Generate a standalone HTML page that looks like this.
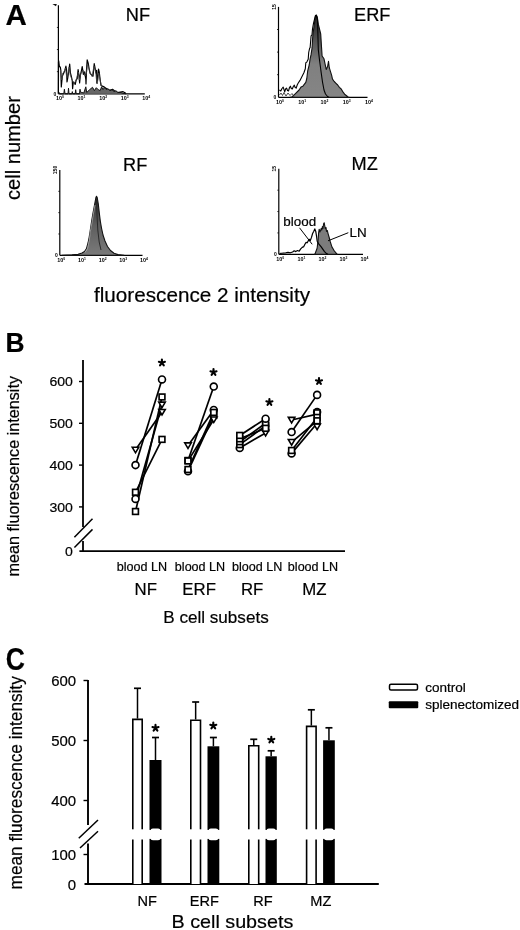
<!DOCTYPE html>
<html><head><meta charset="utf-8"><style>
html,body{margin:0;padding:0;background:#fff;width:520px;height:930px;overflow:hidden}
svg{display:block;filter:blur(0.35px)}
text{font-family:"Liberation Sans", sans-serif;fill:#000;stroke:#000;stroke-width:0.2px}
</style></head><body>
<svg width="520" height="930" viewBox="0 0 520 930">
<defs><linearGradient id="gE" x1="0" y1="15" x2="0" y2="97" gradientUnits="userSpaceOnUse"><stop offset="0" stop-color="#222"/><stop offset="0.35" stop-color="#5a5a5a"/><stop offset="0.6" stop-color="#808080"/><stop offset="1" stop-color="#858585"/></linearGradient><linearGradient id="gR" x1="0" y1="196" x2="0" y2="255" gradientUnits="userSpaceOnUse"><stop offset="0" stop-color="#2a2a2a"/><stop offset="0.5" stop-color="#5e5e5e"/><stop offset="1" stop-color="#7a7a7a"/></linearGradient></defs>
<text transform="translate(5.60,24.50) scale(1.0,1)" font-size="29.5" text-anchor="start" font-weight="bold" >A</text>
<line x1="58.4" y1="5.3" x2="58.4" y2="93.8" stroke="#000" stroke-width="1.2"/>
<line x1="58.4" y1="93.8" x2="144.8" y2="93.8" stroke="#000" stroke-width="1.2"/>
<line x1="56.9" y1="71.675" x2="58.4" y2="71.675" stroke="#000" stroke-width="0.8"/>
<line x1="56.9" y1="49.55" x2="58.4" y2="49.55" stroke="#000" stroke-width="0.8"/>
<line x1="56.9" y1="27.424999999999997" x2="58.4" y2="27.424999999999997" stroke="#000" stroke-width="0.8"/>
<text x="59.9" y="100.1" font-size="5.4" font-weight="bold" text-anchor="middle" fill="#222" style="stroke:none">10<tspan font-size="3.4" dy="-2">0</tspan></text>
<text x="81.5" y="100.1" font-size="5.4" font-weight="bold" text-anchor="middle" fill="#222" style="stroke:none">10<tspan font-size="3.4" dy="-2">1</tspan></text>
<text x="103.1" y="100.1" font-size="5.4" font-weight="bold" text-anchor="middle" fill="#222" style="stroke:none">10<tspan font-size="3.4" dy="-2">2</tspan></text>
<text x="124.7" y="100.1" font-size="5.4" font-weight="bold" text-anchor="middle" fill="#222" style="stroke:none">10<tspan font-size="3.4" dy="-2">3</tspan></text>
<text x="146.3" y="100.1" font-size="5.4" font-weight="bold" text-anchor="middle" fill="#222" style="stroke:none">10<tspan font-size="3.4" dy="-2">4</tspan></text>
<text x="54.9" y="95.6" font-size="5" font-weight="bold" text-anchor="middle" fill="#222" style="stroke:none">0</text>
<path d="M52.4,3.9 L56.8,3.9 L56.0,6.2 Z" fill="#111"/>
<path d="M58.4,93.8 L58.5,62.0 L58.7,60.8 L59.4,66.6 L60.3,67.0 L60.8,70.0 L61.3,87.0 L62.3,76.2 L63.2,74.3 L64.9,70.4 L65.9,66.1 L66.6,70.4 L67.0,82.0 L67.8,77.6 L68.7,71.4 L69.7,64.2 L70.4,72.8 L71.4,76.7 L72.3,81.0 L72.6,88.7 L73.3,82.0 L74.3,83.0 L75.2,84.4 L76.2,80.0 L77.2,78.6 L78.1,69.5 L79.1,76.2 L79.6,83.0 L80.5,74.3 L81.2,72.0 L82.2,66.6 L83.4,74.3 L84.6,71.9 L85.8,79.1 L86.0,83.9 L86.5,70.4 L87.2,59.8 L88.2,63.2 L89.1,68.5 L90.1,73.3 L91.5,74.8 L93.0,76.2 L93.5,71.4 L94.2,63.7 L95.1,68.0 L95.9,72.8 L96.6,70.4 L96.8,82.9 L97.5,80.0 L98.5,69.0 L99.2,71.9 L100.2,80.0 L101.0,85.5 L102.9,86.4 L104.8,87.4 L106.7,88.8 L109.6,90.3 L112.5,89.3 L114.4,90.8 L117.3,92.7 L120.2,92.2 L123.1,91.7 L125.0,92.7 L126.0,93.6" fill="none" stroke="#000" stroke-width="1.2" stroke-linejoin="round"/>
<path d="M60.5,70.0 L61.8,80.0 L62.8,73.0 L64.0,72.0 L65.5,68.0 L66.8,78.0 L68.0,74.0 L69.2,67.0 L70.2,75.0 L71.8,79.0 L74.0,84.0 L76.5,79.0 L78.4,72.0 L79.3,80.0 L81.0,73.0 L83.0,70.0 L85.0,76.0 L86.3,74.0 L87.6,64.0 L89.5,71.0 L92.0,76.5 L94.0,66.0 L95.5,71.0 L96.4,79.0 L97.2,84.0 L98.8,73.0 L100.5,82.0 L101.5,86.0" fill="none" stroke="#444" stroke-width="0.8" stroke-linejoin="round"/>
<path d="M58.6,93.8 L59.1,92.5 L59.6,93.8 L63.8,93.8 L64.4,89.2 L65.0,93.8 L68.0,93.8 L68.5,88.2 L69.0,93.8 L71.8,93.8 L72.3,91.6 L72.8,93.8 L75.2,93.8 L75.7,89.7 L76.2,93.8 L79.5,93.8 L80.0,89.2 L80.5,92.0 L81.9,92.5 L83.8,93.0 L85.8,86.8 L86.7,92.5 L89.6,89.7 L92.5,87.3 L94.4,90.6 L96.3,87.7 L98.3,89.7 L100.2,90.6 L101.6,86.8 L103.0,89.7 L104.5,87.3 L106.0,89.5 L108.0,88.8 L110.0,90.6 L112.0,89.8 L114.0,91.5 L116.0,90.8 L118.0,92.5 L121.0,92.6 L123.0,93.3 L126.0,93.8" fill="#666" stroke="#111" stroke-width="1.0" stroke-linejoin="round"/>
<text transform="translate(125.80,21.00) scale(1.04,1)" font-size="17.5" text-anchor="start" font-weight="normal" >NF</text>
<line x1="278.5" y1="6.9" x2="278.5" y2="97.3" stroke="#000" stroke-width="1.2"/>
<line x1="278.5" y1="97.3" x2="367.5" y2="97.3" stroke="#000" stroke-width="1.2"/>
<line x1="277.0" y1="74.7" x2="278.5" y2="74.7" stroke="#000" stroke-width="0.8"/>
<line x1="277.0" y1="52.1" x2="278.5" y2="52.1" stroke="#000" stroke-width="0.8"/>
<line x1="277.0" y1="29.5" x2="278.5" y2="29.5" stroke="#000" stroke-width="0.8"/>
<text x="280.0" y="103.6" font-size="5.4" font-weight="bold" text-anchor="middle" fill="#222" style="stroke:none">10<tspan font-size="3.4" dy="-2">0</tspan></text>
<text x="302.2" y="103.6" font-size="5.4" font-weight="bold" text-anchor="middle" fill="#222" style="stroke:none">10<tspan font-size="3.4" dy="-2">1</tspan></text>
<text x="324.5" y="103.6" font-size="5.4" font-weight="bold" text-anchor="middle" fill="#222" style="stroke:none">10<tspan font-size="3.4" dy="-2">2</tspan></text>
<text x="346.8" y="103.6" font-size="5.4" font-weight="bold" text-anchor="middle" fill="#222" style="stroke:none">10<tspan font-size="3.4" dy="-2">3</tspan></text>
<text x="369.0" y="103.6" font-size="5.4" font-weight="bold" text-anchor="middle" fill="#222" style="stroke:none">10<tspan font-size="3.4" dy="-2">4</tspan></text>
<text x="275.0" y="99.1" font-size="5" font-weight="bold" text-anchor="middle" fill="#222" style="stroke:none">0</text>
<text transform="translate(275.8,6.9) rotate(-90)" font-size="5" font-weight="bold" text-anchor="middle" fill="#222" style="stroke:none">15</text>
<path d="M290.5,97.3 L292.3,96.7 L295.2,93.8 L299.1,90.0 L301.0,87.1 L302.9,86.2 L305.8,82.3 L306.8,78.5 L307.7,70.8 L309.2,65.0 L310.1,59.2 L311.1,54.4 L312.1,47.7 L312.5,40.0 L313.0,33.8 L314.4,24.2 L315.3,17.0 L316.3,15.1 L317.3,17.0 L318.3,24.2 L320.7,33.8 L321.6,48.3 L322.1,56.0 L324.0,58.8 L325.0,63.7 L326.2,69.4 L327.6,66.5 L328.5,61.3 L329.3,67.7 L330.5,71.7 L331.6,75.2 L332.5,79.2 L334.2,81.5 L336.0,83.3 L337.7,85.0 L339.4,87.3 L341.2,89.0 L342.9,91.9 L344.6,94.2 L346.9,96.0 L348.1,97.1 L349.0,97.3 Z" fill="url(#gE)" stroke="#111" stroke-width="1.1" stroke-linejoin="round"/>
<path d="M279.4,90.0 L280.8,91.0 L282.0,88.5 L283.2,87.1 L284.7,91.9 L285.6,89.0 L286.6,88.1 L287.5,90.5 L288.5,91.0 L289.5,87.5 L290.4,86.2 L291.3,88.5 L292.3,89.0 L293.3,86.5 L294.3,85.2 L295.2,87.5 L296.2,88.1 L297.2,85.0 L298.1,83.3 L300.0,80.4 L302.0,76.5 L303.9,72.7 L305.3,68.8 L305.8,62.7 L306.8,62.1 L308.2,59.2 L308.7,52.5 L309.6,48.3 L310.1,47.7 L311.1,35.8 L312.0,34.8 L312.5,29.0 L313.5,23.3 L315.4,15.6 L316.3,15.2 L317.5,20.0 L318.3,49.6 L319.5,60.0 L321.2,72.7 L322.5,82.0 L324.0,90.0 L325.5,94.0 L327.5,96.5 L329.0,97.3" fill="none" stroke="#000" stroke-width="1.1" stroke-linejoin="round"/>
<path d="M279.5,95.0 L281.0,93.0 L282.5,95.5 L284.0,92.5 L286.0,96.0 L288.0,93.0 L290.0,95.5 L292.0,93.5 L294.0,96.5" fill="none" stroke="#222" stroke-width="0.8" stroke-linejoin="round"/>
<text transform="translate(354.00,20.80) scale(1.04,1)" font-size="17.5" text-anchor="start" font-weight="normal" >ERF</text>
<line x1="59.8" y1="170" x2="59.8" y2="255.3" stroke="#000" stroke-width="1.2"/>
<line x1="59.8" y1="255.3" x2="142.5" y2="255.3" stroke="#000" stroke-width="1.2"/>
<line x1="58.3" y1="233.97500000000002" x2="59.8" y2="233.97500000000002" stroke="#000" stroke-width="0.8"/>
<line x1="58.3" y1="212.65" x2="59.8" y2="212.65" stroke="#000" stroke-width="0.8"/>
<line x1="58.3" y1="191.325" x2="59.8" y2="191.325" stroke="#000" stroke-width="0.8"/>
<text x="61.3" y="261.6" font-size="5.4" font-weight="bold" text-anchor="middle" fill="#222" style="stroke:none">10<tspan font-size="3.4" dy="-2">0</tspan></text>
<text x="82.0" y="261.6" font-size="5.4" font-weight="bold" text-anchor="middle" fill="#222" style="stroke:none">10<tspan font-size="3.4" dy="-2">1</tspan></text>
<text x="102.7" y="261.6" font-size="5.4" font-weight="bold" text-anchor="middle" fill="#222" style="stroke:none">10<tspan font-size="3.4" dy="-2">2</tspan></text>
<text x="123.3" y="261.6" font-size="5.4" font-weight="bold" text-anchor="middle" fill="#222" style="stroke:none">10<tspan font-size="3.4" dy="-2">3</tspan></text>
<text x="144.0" y="261.6" font-size="5.4" font-weight="bold" text-anchor="middle" fill="#222" style="stroke:none">10<tspan font-size="3.4" dy="-2">4</tspan></text>
<text x="56.3" y="257.1" font-size="5" font-weight="bold" text-anchor="middle" fill="#222" style="stroke:none">0</text>
<text transform="translate(57.099999999999994,170) rotate(-90)" font-size="5" font-weight="bold" text-anchor="middle" fill="#222" style="stroke:none">150</text>
<path d="M62.0,255.3 L72.0,254.8 L78.0,254.2 L82.0,253.0 L84.5,251.5 L86.5,248.5 L88.0,243.0 L89.2,237.0 L90.3,230.0 L91.5,222.0 L93.0,213.0 L94.7,204.0 L95.9,197.5 L96.5,196.2 L97.2,197.5 L98.3,204.0 L99.3,213.0 L100.3,221.0 L101.5,228.0 L103.0,235.0 L105.0,241.0 L107.5,246.5 L110.5,250.5 L114.0,253.3 L118.0,254.6 L124.0,255.3 Z" fill="url(#gR)" stroke="#111" stroke-width="1.1" stroke-linejoin="round"/>
<path d="M85.0,252.5 L87.5,248.5 L89.3,240.0 L90.4,231.0 L91.7,224.0 L93.2,215.0 L95.0,205.0" fill="none" stroke="#bbb" stroke-width="0.7" stroke-linejoin="round"/>
<path d="M96.6,198.0 L97.0,215.0 L97.8,230.0 L99.2,242.0 L101.0,250.0" fill="none" stroke="#222" stroke-width="0.9" stroke-linejoin="round"/>
<text transform="translate(123.00,170.60) scale(1.04,1)" font-size="17.5" text-anchor="start" font-weight="normal" >RF</text>
<line x1="278.8" y1="168.8" x2="278.8" y2="254.3" stroke="#000" stroke-width="1.2"/>
<line x1="278.8" y1="254.3" x2="363" y2="254.3" stroke="#000" stroke-width="1.2"/>
<line x1="277.3" y1="232.925" x2="278.8" y2="232.925" stroke="#000" stroke-width="0.8"/>
<line x1="277.3" y1="211.55" x2="278.8" y2="211.55" stroke="#000" stroke-width="0.8"/>
<line x1="277.3" y1="190.175" x2="278.8" y2="190.175" stroke="#000" stroke-width="0.8"/>
<text x="280.3" y="260.6" font-size="5.4" font-weight="bold" text-anchor="middle" fill="#222" style="stroke:none">10<tspan font-size="3.4" dy="-2">0</tspan></text>
<text x="301.4" y="260.6" font-size="5.4" font-weight="bold" text-anchor="middle" fill="#222" style="stroke:none">10<tspan font-size="3.4" dy="-2">1</tspan></text>
<text x="322.4" y="260.6" font-size="5.4" font-weight="bold" text-anchor="middle" fill="#222" style="stroke:none">10<tspan font-size="3.4" dy="-2">2</tspan></text>
<text x="343.4" y="260.6" font-size="5.4" font-weight="bold" text-anchor="middle" fill="#222" style="stroke:none">10<tspan font-size="3.4" dy="-2">3</tspan></text>
<text x="364.5" y="260.6" font-size="5.4" font-weight="bold" text-anchor="middle" fill="#222" style="stroke:none">10<tspan font-size="3.4" dy="-2">4</tspan></text>
<text x="275.3" y="256.1" font-size="5" font-weight="bold" text-anchor="middle" fill="#222" style="stroke:none">0</text>
<text transform="translate(276.1,168.8) rotate(-90)" font-size="5" font-weight="bold" text-anchor="middle" fill="#222" style="stroke:none">15</text>
<path d="M314.5,254.3 L315.1,253.6 L317.1,248.3 L318.1,240.2 L318.6,233.0 L319.2,229.2 L319.9,232.0 L320.5,230.8 L321.2,228.5 L321.8,230.0 L322.4,226.5 L323.0,228.5 L323.6,223.8 L324.2,222.8 L324.8,226.0 L325.3,228.7 L326.0,227.5 L326.5,231.4 L327.3,230.5 L328.2,234.1 L329.2,237.5 L330.2,241.5 L331.9,246.9 L333.9,250.3 L336.0,253.0 L337.3,254.3 Z" fill="#7c7c7c" stroke="#111" stroke-width="1.1" stroke-linejoin="round"/>
<path d="M279.5,253.5 L282.6,253.2 L285.7,252.8 L288.0,252.4 L290.3,252.8 L292.6,252.0 L294.2,250.8 L295.7,251.6 L297.6,250.5 L299.2,251.2 L300.7,248.9 L302.2,247.4 L303.8,246.6 L304.9,244.3 L306.1,242.4 L307.2,242.8 L308.4,240.5 L309.5,239.7 L310.3,240.5 L311.5,237.4 L312.6,233.5 L313.8,231.2 L314.8,228.9 L315.7,231.2 L316.5,235.8 L317.2,241.2 L318.5,243.6 L321.2,246.9 L324.5,251.6 L326.5,253.6 L328.0,254.3" fill="none" stroke="#000" stroke-width="1.2" stroke-linejoin="round"/>
<circle cx="309.2" cy="240" r="1.3" fill="#000"/>
<text transform="translate(351.60,169.90) scale(1.04,1)" font-size="17.5" text-anchor="start" font-weight="normal" >MZ</text>
<text transform="translate(283.30,226.20) scale(1.04,1)" font-size="12.9" text-anchor="start" font-weight="normal" >blood</text>
<line x1="299.5" y1="227.8" x2="312.2" y2="244.3" stroke="#000" stroke-width="1.0"/>
<text transform="translate(349.50,236.90) scale(1.04,1)" font-size="12.9" text-anchor="start" font-weight="normal" >LN</text>
<line x1="348.3" y1="232.7" x2="328" y2="240.8" stroke="#000" stroke-width="1.0"/>
<text transform="translate(19.6,200.0) rotate(-90) scale(1,1.04)" font-size="20.1">cell number</text>
<text transform="translate(94.00,301.60) scale(1.05,1)" font-size="19.7" text-anchor="start" font-weight="normal" >fluorescence 2 intensity</text>
<text transform="translate(5.60,352.30) scale(0.97,1)" font-size="27.2" text-anchor="start" font-weight="bold" >B</text>
<text transform="translate(18.6,576.6) rotate(-90)" font-size="16.2">mean fluorescence intensity</text>
<line x1="83.0" y1="360" x2="83.0" y2="527" stroke="#000" stroke-width="1.8"/>
<line x1="83.0" y1="541" x2="83.0" y2="552.0" stroke="#000" stroke-width="1.8"/>
<line x1="79.4" y1="551.2" x2="345" y2="551.2" stroke="#000" stroke-width="1.8"/>
<line x1="79" y1="381.5" x2="83.0" y2="381.5" stroke="#000" stroke-width="1.4"/>
<text transform="translate(72.80,386.30) scale(1.04,1)" font-size="13.5" text-anchor="end" font-weight="normal" >600</text>
<line x1="79" y1="423.3" x2="83.0" y2="423.3" stroke="#000" stroke-width="1.4"/>
<text transform="translate(72.80,428.10) scale(1.04,1)" font-size="13.5" text-anchor="end" font-weight="normal" >500</text>
<line x1="79" y1="465.1" x2="83.0" y2="465.1" stroke="#000" stroke-width="1.4"/>
<text transform="translate(72.80,469.90) scale(1.04,1)" font-size="13.5" text-anchor="end" font-weight="normal" >400</text>
<line x1="79" y1="506.9" x2="83.0" y2="506.9" stroke="#000" stroke-width="1.4"/>
<text transform="translate(72.80,511.70) scale(1.04,1)" font-size="13.5" text-anchor="end" font-weight="normal" >300</text>
<text transform="translate(72.80,556.40) scale(1.04,1)" font-size="13.5" text-anchor="end" font-weight="normal" >0</text>
<line x1="74.4" y1="537.3" x2="92.5" y2="518.8" stroke="#000" stroke-width="1.5"/>
<line x1="74.4" y1="547.5" x2="92.5" y2="529.4" stroke="#000" stroke-width="1.5"/>
<line x1="135.5" y1="449.8012" x2="162.0" y2="412.014" stroke="#000" stroke-width="1.7"/>
<line x1="135.5" y1="465.1" x2="162.0" y2="379.41" stroke="#000" stroke-width="1.7"/>
<line x1="135.5" y1="492.27" x2="162.0" y2="439.39300000000003" stroke="#000" stroke-width="1.7"/>
<line x1="135.5" y1="498.95799999999997" x2="162.0" y2="404.699" stroke="#000" stroke-width="1.7"/>
<line x1="135.5" y1="511.498" x2="162.0" y2="396.966" stroke="#000" stroke-width="1.7"/>
<path d="M132.20,447.20 L138.80,447.20 L135.50,452.80 Z" fill="#fff" stroke="#000" stroke-width="1.55" stroke-linejoin="miter"/>
<path d="M158.70,409.41 L165.30,409.41 L162.00,415.01 Z" fill="#fff" stroke="#000" stroke-width="1.55" stroke-linejoin="miter"/>
<circle cx="135.50" cy="465.10" r="3.45" fill="#fff" stroke="#000" stroke-width="1.65"/>
<circle cx="162.00" cy="379.41" r="3.45" fill="#fff" stroke="#000" stroke-width="1.65"/>
<rect x="132.60" y="489.37" width="5.8" height="5.8" fill="#fff" stroke="#000" stroke-width="1.65"/>
<rect x="159.10" y="436.49" width="5.8" height="5.8" fill="#fff" stroke="#000" stroke-width="1.65"/>
<circle cx="135.50" cy="498.96" r="3.45" fill="#fff" stroke="#000" stroke-width="1.65"/>
<path d="M158.70,402.10 L165.30,402.10 L162.00,407.70 Z" fill="#fff" stroke="#000" stroke-width="1.55" stroke-linejoin="miter"/>
<rect x="132.60" y="508.60" width="5.8" height="5.8" fill="#fff" stroke="#000" stroke-width="1.65"/>
<rect x="159.10" y="394.07" width="5.8" height="5.8" fill="#fff" stroke="#000" stroke-width="1.65"/>
<line x1="188" y1="471.161" x2="213.75" y2="415.358" stroke="#000" stroke-width="1.7"/>
<line x1="188" y1="445.454" x2="213.75" y2="409.924" stroke="#000" stroke-width="1.7"/>
<line x1="188" y1="460.502" x2="213.75" y2="386.516" stroke="#000" stroke-width="1.7"/>
<line x1="188" y1="469.489" x2="213.75" y2="412.432" stroke="#000" stroke-width="1.7"/>
<line x1="188" y1="460.92" x2="213.75" y2="419.538" stroke="#000" stroke-width="1.7"/>
<circle cx="188.00" cy="471.16" r="3.45" fill="#fff" stroke="#000" stroke-width="1.65"/>
<rect x="210.85" y="412.46" width="5.8" height="5.8" fill="#fff" stroke="#000" stroke-width="1.65"/>
<path d="M184.70,442.85 L191.30,442.85 L188.00,448.45 Z" fill="#fff" stroke="#000" stroke-width="1.55" stroke-linejoin="miter"/>
<circle cx="213.75" cy="409.92" r="3.45" fill="#fff" stroke="#000" stroke-width="1.65"/>
<rect x="185.10" y="457.60" width="5.8" height="5.8" fill="#fff" stroke="#000" stroke-width="1.65"/>
<circle cx="213.75" cy="386.52" r="3.45" fill="#fff" stroke="#000" stroke-width="1.65"/>
<rect x="185.10" y="466.59" width="5.8" height="5.8" fill="#fff" stroke="#000" stroke-width="1.65"/>
<rect x="210.85" y="409.53" width="5.8" height="5.8" fill="#fff" stroke="#000" stroke-width="1.65"/>
<rect x="185.10" y="458.02" width="5.8" height="5.8" fill="#fff" stroke="#000" stroke-width="1.65"/>
<path d="M210.45,416.94 L217.05,416.94 L213.75,422.54 Z" fill="#fff" stroke="#000" stroke-width="1.55" stroke-linejoin="miter"/>
<line x1="239.75" y1="447.962" x2="265.6" y2="432.914" stroke="#000" stroke-width="1.7"/>
<line x1="239.75" y1="444.618" x2="265.6" y2="425.808" stroke="#000" stroke-width="1.7"/>
<line x1="239.75" y1="441.692" x2="265.6" y2="423.3" stroke="#000" stroke-width="1.7"/>
<line x1="239.75" y1="438.766" x2="265.6" y2="428.316" stroke="#000" stroke-width="1.7"/>
<line x1="239.75" y1="435.422" x2="265.6" y2="418.702" stroke="#000" stroke-width="1.7"/>
<circle cx="239.75" cy="447.96" r="3.45" fill="#fff" stroke="#000" stroke-width="1.65"/>
<path d="M262.30,430.31 L268.90,430.31 L265.60,435.91 Z" fill="#fff" stroke="#000" stroke-width="1.55" stroke-linejoin="miter"/>
<rect x="236.85" y="441.72" width="5.8" height="5.8" fill="#fff" stroke="#000" stroke-width="1.65"/>
<rect x="262.70" y="422.91" width="5.8" height="5.8" fill="#fff" stroke="#000" stroke-width="1.65"/>
<rect x="236.85" y="438.79" width="5.8" height="5.8" fill="#fff" stroke="#000" stroke-width="1.65"/>
<rect x="262.70" y="420.40" width="5.8" height="5.8" fill="#fff" stroke="#000" stroke-width="1.65"/>
<rect x="236.85" y="435.87" width="5.8" height="5.8" fill="#fff" stroke="#000" stroke-width="1.65"/>
<rect x="262.70" y="425.42" width="5.8" height="5.8" fill="#fff" stroke="#000" stroke-width="1.65"/>
<rect x="236.85" y="432.52" width="5.8" height="5.8" fill="#fff" stroke="#000" stroke-width="1.65"/>
<circle cx="265.60" cy="418.70" r="3.45" fill="#fff" stroke="#000" stroke-width="1.65"/>
<line x1="291.6" y1="419.956" x2="317.1" y2="414.104" stroke="#000" stroke-width="1.7"/>
<line x1="291.6" y1="432.078" x2="317.1" y2="394.876" stroke="#000" stroke-width="1.7"/>
<line x1="291.6" y1="442.11" x2="317.1" y2="420.79200000000003" stroke="#000" stroke-width="1.7"/>
<line x1="291.6" y1="450.47" x2="317.1" y2="417.448" stroke="#000" stroke-width="1.7"/>
<line x1="291.6" y1="453.396" x2="317.1" y2="423.3" stroke="#000" stroke-width="1.7"/>
<circle cx="291.60" cy="453.40" r="3.45" fill="#fff" stroke="#000" stroke-width="1.65"/>
<rect x="288.70" y="447.57" width="5.8" height="5.8" fill="#fff" stroke="#000" stroke-width="1.65"/>
<path d="M288.30,439.51 L294.90,439.51 L291.60,445.11 Z" fill="#fff" stroke="#000" stroke-width="1.55" stroke-linejoin="miter"/>
<circle cx="291.60" cy="432.08" r="3.45" fill="#fff" stroke="#000" stroke-width="1.65"/>
<path d="M288.30,417.36 L294.90,417.36 L291.60,422.96 Z" fill="#fff" stroke="#000" stroke-width="1.55" stroke-linejoin="miter"/>
<path d="M313.80,424.04 L320.40,424.04 L317.10,429.64 Z" fill="#fff" stroke="#000" stroke-width="1.55" stroke-linejoin="miter"/>
<circle cx="317.10" cy="412.01" r="3.45" fill="#fff" stroke="#000" stroke-width="1.65"/>
<rect x="314.20" y="409.95" width="5.8" height="5.8" fill="#fff" stroke="#000" stroke-width="1.65"/>
<rect x="314.20" y="414.55" width="5.8" height="5.8" fill="#fff" stroke="#000" stroke-width="1.65"/>
<rect x="314.20" y="417.89" width="5.8" height="5.8" fill="#fff" stroke="#000" stroke-width="1.65"/>
<circle cx="317.10" cy="394.88" r="3.45" fill="#fff" stroke="#000" stroke-width="1.65"/>
<path d="M161.90,362.70 L161.90,359.50 M161.90,362.70 L164.94,361.71 M161.90,362.70 L163.78,365.29 M161.90,362.70 L160.02,365.29 M161.90,362.70 L158.86,361.71 " stroke="#000" stroke-width="2.1" stroke-linecap="round" fill="none"/>
<path d="M213.50,372.20 L213.50,369.00 M213.50,372.20 L216.54,371.21 M213.50,372.20 L215.38,374.79 M213.50,372.20 L211.62,374.79 M213.50,372.20 L210.46,371.21 " stroke="#000" stroke-width="2.1" stroke-linecap="round" fill="none"/>
<path d="M269.40,402.20 L269.40,399.00 M269.40,402.20 L272.44,401.21 M269.40,402.20 L271.28,404.79 M269.40,402.20 L267.52,404.79 M269.40,402.20 L266.36,401.21 " stroke="#000" stroke-width="2.1" stroke-linecap="round" fill="none"/>
<path d="M319.00,381.30 L319.00,378.10 M319.00,381.30 L322.04,380.31 M319.00,381.30 L320.88,383.89 M319.00,381.30 L317.12,383.89 M319.00,381.30 L315.96,380.31 " stroke="#000" stroke-width="2.1" stroke-linecap="round" fill="none"/>
<text transform="translate(141.90,571.40) scale(1.04,1)" font-size="12.1" text-anchor="middle" font-weight="normal" >blood LN</text>
<text transform="translate(200.00,571.40) scale(1.04,1)" font-size="12.1" text-anchor="middle" font-weight="normal" >blood LN</text>
<text transform="translate(257.20,571.40) scale(1.04,1)" font-size="12.1" text-anchor="middle" font-weight="normal" >blood LN</text>
<text transform="translate(313.00,571.40) scale(1.04,1)" font-size="12.1" text-anchor="middle" font-weight="normal" >blood LN</text>
<text transform="translate(145.70,595.00) scale(1.03,1)" font-size="16.3" text-anchor="middle" font-weight="normal" >NF</text>
<text transform="translate(199.10,595.00) scale(1.03,1)" font-size="16.3" text-anchor="middle" font-weight="normal" >ERF</text>
<text transform="translate(252.10,595.00) scale(1.03,1)" font-size="16.3" text-anchor="middle" font-weight="normal" >RF</text>
<text transform="translate(314.40,595.00) scale(1.03,1)" font-size="16.3" text-anchor="middle" font-weight="normal" >MZ</text>
<text transform="translate(216.00,623.00) scale(1.0,1)" font-size="17.1" text-anchor="middle" font-weight="normal" >B cell subsets</text>
<text transform="translate(5.70,669.90) scale(0.87,1)" font-size="30.5" text-anchor="start" font-weight="bold" >C</text>
<text transform="translate(22.1,889.4) rotate(-90) scale(1,1.06)" font-size="17.2">mean fluorescence intensity</text>
<line x1="88.0" y1="680" x2="88.0" y2="825" stroke="#000" stroke-width="1.9"/>
<line x1="88.0" y1="843.5" x2="88.0" y2="884.8" stroke="#000" stroke-width="1.9"/>
<line x1="84.5" y1="884" x2="378.8" y2="884" stroke="#000" stroke-width="1.8"/>
<line x1="83.5" y1="680.5" x2="88.0" y2="680.5" stroke="#000" stroke-width="1.4"/>
<text transform="translate(76.20,685.60) scale(1.04,1)" font-size="14.4" text-anchor="end" font-weight="normal" >600</text>
<line x1="83.5" y1="740.5" x2="88.0" y2="740.5" stroke="#000" stroke-width="1.4"/>
<text transform="translate(76.20,745.60) scale(1.04,1)" font-size="14.4" text-anchor="end" font-weight="normal" >500</text>
<line x1="83.5" y1="800.5" x2="88.0" y2="800.5" stroke="#000" stroke-width="1.4"/>
<text transform="translate(76.20,805.60) scale(1.04,1)" font-size="14.4" text-anchor="end" font-weight="normal" >400</text>
<line x1="83.5" y1="854.5" x2="88.0" y2="854.5" stroke="#000" stroke-width="1.4"/>
<text transform="translate(76.20,859.60) scale(1.04,1)" font-size="14.4" text-anchor="end" font-weight="normal" >100</text>
<text transform="translate(76.20,889.60) scale(1.04,1)" font-size="14.4" text-anchor="end" font-weight="normal" >0</text>
<line x1="78.75" y1="838.25" x2="98" y2="820" stroke="#000" stroke-width="1.5"/>
<line x1="80" y1="848" x2="98" y2="831.25" stroke="#000" stroke-width="1.5"/>
<line x1="137.5" y1="688.3" x2="137.5" y2="718.6" stroke="#000" stroke-width="1.5"/>
<line x1="134.0" y1="688.3" x2="141.0" y2="688.3" stroke="#000" stroke-width="1.7"/>
<path d="M132.8,884 L132.8,719.4 L142.2,719.4 L142.2,884" fill="#fff" stroke="#000" stroke-width="1.6"/>
<line x1="155.5" y1="737.5" x2="155.5" y2="760" stroke="#000" stroke-width="1.5"/>
<line x1="152.0" y1="737.5" x2="159.0" y2="737.5" stroke="#000" stroke-width="1.7"/>
<rect x="149.5" y="760" width="12.0" height="124" fill="#000"/>
<path d="M155.50,728.10 L155.50,724.90 M155.50,728.10 L158.54,727.11 M155.50,728.10 L157.38,730.69 M155.50,728.10 L153.62,730.69 M155.50,728.10 L152.46,727.11 " stroke="#000" stroke-width="2.1" stroke-linecap="round" fill="none"/>
<line x1="195.65" y1="702" x2="195.65" y2="719.5" stroke="#000" stroke-width="1.5"/>
<line x1="192.15" y1="702" x2="199.15" y2="702" stroke="#000" stroke-width="1.7"/>
<path d="M190.8,884 L190.8,720.3 L200.5,720.3 L200.5,884" fill="#fff" stroke="#000" stroke-width="1.6"/>
<line x1="213.4" y1="737.5" x2="213.4" y2="746.3" stroke="#000" stroke-width="1.5"/>
<line x1="209.9" y1="737.5" x2="216.9" y2="737.5" stroke="#000" stroke-width="1.7"/>
<rect x="207.5" y="746.3" width="11.800000000000011" height="137.70000000000005" fill="#000"/>
<path d="M213.30,725.70 L213.30,722.50 M213.30,725.70 L216.34,724.71 M213.30,725.70 L215.18,728.29 M213.30,725.70 L211.42,728.29 M213.30,725.70 L210.26,724.71 " stroke="#000" stroke-width="2.1" stroke-linecap="round" fill="none"/>
<line x1="253.75" y1="739.3" x2="253.75" y2="745" stroke="#000" stroke-width="1.5"/>
<line x1="250.25" y1="739.3" x2="257.25" y2="739.3" stroke="#000" stroke-width="1.7"/>
<path d="M248.8,884 L248.8,745.8 L258.7,745.8 L258.7,884" fill="#fff" stroke="#000" stroke-width="1.6"/>
<line x1="271.15" y1="750.8" x2="271.15" y2="756.3" stroke="#000" stroke-width="1.5"/>
<line x1="267.65" y1="750.8" x2="274.65" y2="750.8" stroke="#000" stroke-width="1.7"/>
<rect x="265.5" y="756.3" width="11.300000000000011" height="127.70000000000005" fill="#000"/>
<path d="M271.30,739.90 L271.30,736.70 M271.30,739.90 L274.34,738.91 M271.30,739.90 L273.18,742.49 M271.30,739.90 L269.42,742.49 M271.30,739.90 L268.26,738.91 " stroke="#000" stroke-width="2.1" stroke-linecap="round" fill="none"/>
<line x1="311.35" y1="709.8" x2="311.35" y2="725.6" stroke="#000" stroke-width="1.5"/>
<line x1="307.85" y1="709.8" x2="314.85" y2="709.8" stroke="#000" stroke-width="1.7"/>
<path d="M306.6,884 L306.6,726.4 L316.09999999999997,726.4 L316.09999999999997,884" fill="#fff" stroke="#000" stroke-width="1.6"/>
<line x1="328.95000000000005" y1="727.8" x2="328.95000000000005" y2="740.3" stroke="#000" stroke-width="1.5"/>
<line x1="325.45000000000005" y1="727.8" x2="332.45000000000005" y2="727.8" stroke="#000" stroke-width="1.7"/>
<rect x="323.1" y="740.3" width="11.699999999999989" height="143.70000000000005" fill="#000"/>
<rect x="131" y="829.3" width="13" height="10.2" fill="#fff"/>
<rect x="148.5" y="829.9" width="14.0" height="9.0" fill="#fff"/>
<rect x="150.5" y="828.5" width="10.0" height="11.8" rx="2.4" fill="#fff"/>
<rect x="189" y="829.3" width="13.300000000000011" height="10.2" fill="#fff"/>
<rect x="206.5" y="829.9" width="13.800000000000011" height="9.0" fill="#fff"/>
<rect x="208.5" y="828.5" width="9.800000000000011" height="11.8" rx="2.4" fill="#fff"/>
<rect x="247" y="829.3" width="13.5" height="10.2" fill="#fff"/>
<rect x="264.5" y="829.9" width="13.300000000000011" height="9.0" fill="#fff"/>
<rect x="266.5" y="828.5" width="9.300000000000011" height="11.8" rx="2.4" fill="#fff"/>
<rect x="304.8" y="829.3" width="13.099999999999966" height="10.2" fill="#fff"/>
<rect x="322.1" y="829.9" width="13.699999999999989" height="9.0" fill="#fff"/>
<rect x="324.1" y="828.5" width="9.699999999999989" height="11.8" rx="2.4" fill="#fff"/>
<text transform="translate(147.10,906.20) scale(1.04,1)" font-size="14" text-anchor="middle" font-weight="normal" >NF</text>
<text transform="translate(204.40,906.20) scale(1.04,1)" font-size="14" text-anchor="middle" font-weight="normal" >ERF</text>
<text transform="translate(263.00,906.20) scale(1.04,1)" font-size="14" text-anchor="middle" font-weight="normal" >RF</text>
<text transform="translate(320.80,906.20) scale(1.04,1)" font-size="14" text-anchor="middle" font-weight="normal" >MZ</text>
<text transform="translate(232.40,927.90) scale(1.04,1)" font-size="19.0" text-anchor="middle" font-weight="normal" >B cell subsets</text>
<rect x="389.5" y="684.2" width="28" height="5.8" rx="1.5" fill="#fff" stroke="#000" stroke-width="1.5"/>
<rect x="388.75" y="701.25" width="29.5" height="7" rx="1" fill="#000"/>
<text transform="translate(425.20,692.00) scale(1.04,1)" font-size="13" text-anchor="start" font-weight="normal" >control</text>
<text transform="translate(425.20,709.00) scale(1.04,1)" font-size="13" text-anchor="start" font-weight="normal" >splenectomized</text>
</svg>
</body></html>
